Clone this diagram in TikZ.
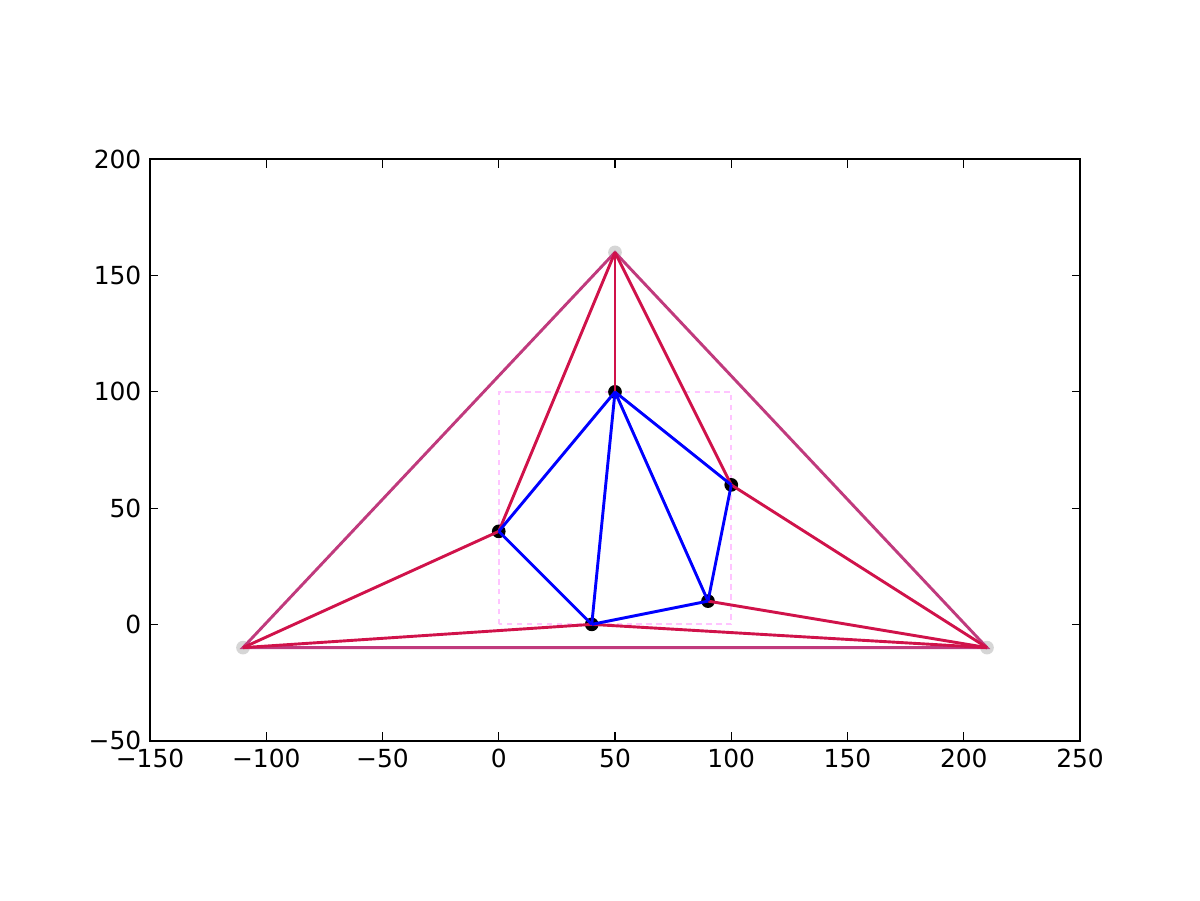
\documentclass[tikz,border=0pt]{standalone}
\usepackage{fontspec}
\setmainfont{DejaVu Sans}
\usepackage{xcolor}
\usepackage{tikz}
\usetikzlibrary{positioning}
\definecolor{edgered}{RGB}{208,18,74}
\definecolor{superpurple}{RGB}{192,58,125}
\definecolor{boxpink}{RGB}{255,196,255}
\definecolor{supergray}{RGB}{214,214,214}
\tikzset{
  innerpt/.style  = {circle, fill=black, draw=none, inner sep=0pt, minimum size=6.6pt},
  superpt/.style  = {circle, fill=supergray, draw=none, inner sep=0pt, minimum size=6.6pt},
  superedge/.style = {superpurple, line width=1.4pt},
  triedge/.style  = {edgered, line width=1.4pt},
  inedge/.style   = {blue, line width=1.4pt},
  bbox/.style     = {boxpink, line width=0.9pt, dash pattern=on 2.6pt off 2.2pt},
  ticklab/.style  = {font=\fontsize{12}{14}\selectfont, inner sep=0pt},
}
\begin{document}
\begin{tikzpicture}[x=0.0155in, y=0.0155in]
\useasboundingbox (-214.516,-118.55) rectangle (301.61,268.55);

% bounding square of the input points
\draw[bbox] (0,0) rectangle (100,100);

% points
\node[superpt] (sa) at (-110,-10) {};
\node[superpt] (sb) at (50,160) {};
\node[superpt] (sc) at (210,-10) {};
\node[innerpt] (p1) at (50,100) {};
\node[innerpt] (p2) at (0,40) {};
\node[innerpt] (p3) at (100,60) {};
\node[innerpt] (p4) at (40,0) {};
\node[innerpt] (p5) at (90,10) {};

% super triangle
\draw[superedge] (sa.center) -- (sb.center) -- (sc.center) -- cycle;

% edges to the super triangle
\foreach \a/\b in {sb/p2, sb/p1, sb/p3, sa/p2, sa/p4, sc/p4, sc/p5, sc/p3}
  \draw[triedge] (\a.center) -- (\b.center);

% inner triangulation
\foreach \a/\b in {p2/p1, p2/p4, p4/p1, p1/p5, p1/p3, p3/p5, p4/p5}
  \draw[inedge] (\a.center) -- (\b.center);

% axes frame
\draw[line width=1pt] (-150,-50) rectangle (250,200);
\foreach \x/\t in {-150/−150,-100/−100,-50/−50,0/0,50/50,100/100,150/150,200/200,250/250} {
  \draw[line width=0.5pt] (\x,-50) -- ++(0,4pt);
  \draw[line width=0.5pt] (\x,200) -- ++(0,-4pt);
  \node[ticklab, anchor=north] (xl\x) at ([yshift=-4pt]\x,-50) {\t};
}
\foreach \y/\t in {-50/−50,0/0,50/50,100/100,150/150,200/200} {
  \draw[line width=0.5pt] (-150,\y) -- ++(4pt,0);
  \draw[line width=0.5pt] (250,\y) -- ++(-4pt,0);
  \node[ticklab, anchor=east] (yl\y) at ([xshift=-4pt]-150,\y) {\t};
}
\end{tikzpicture}
\end{document}
